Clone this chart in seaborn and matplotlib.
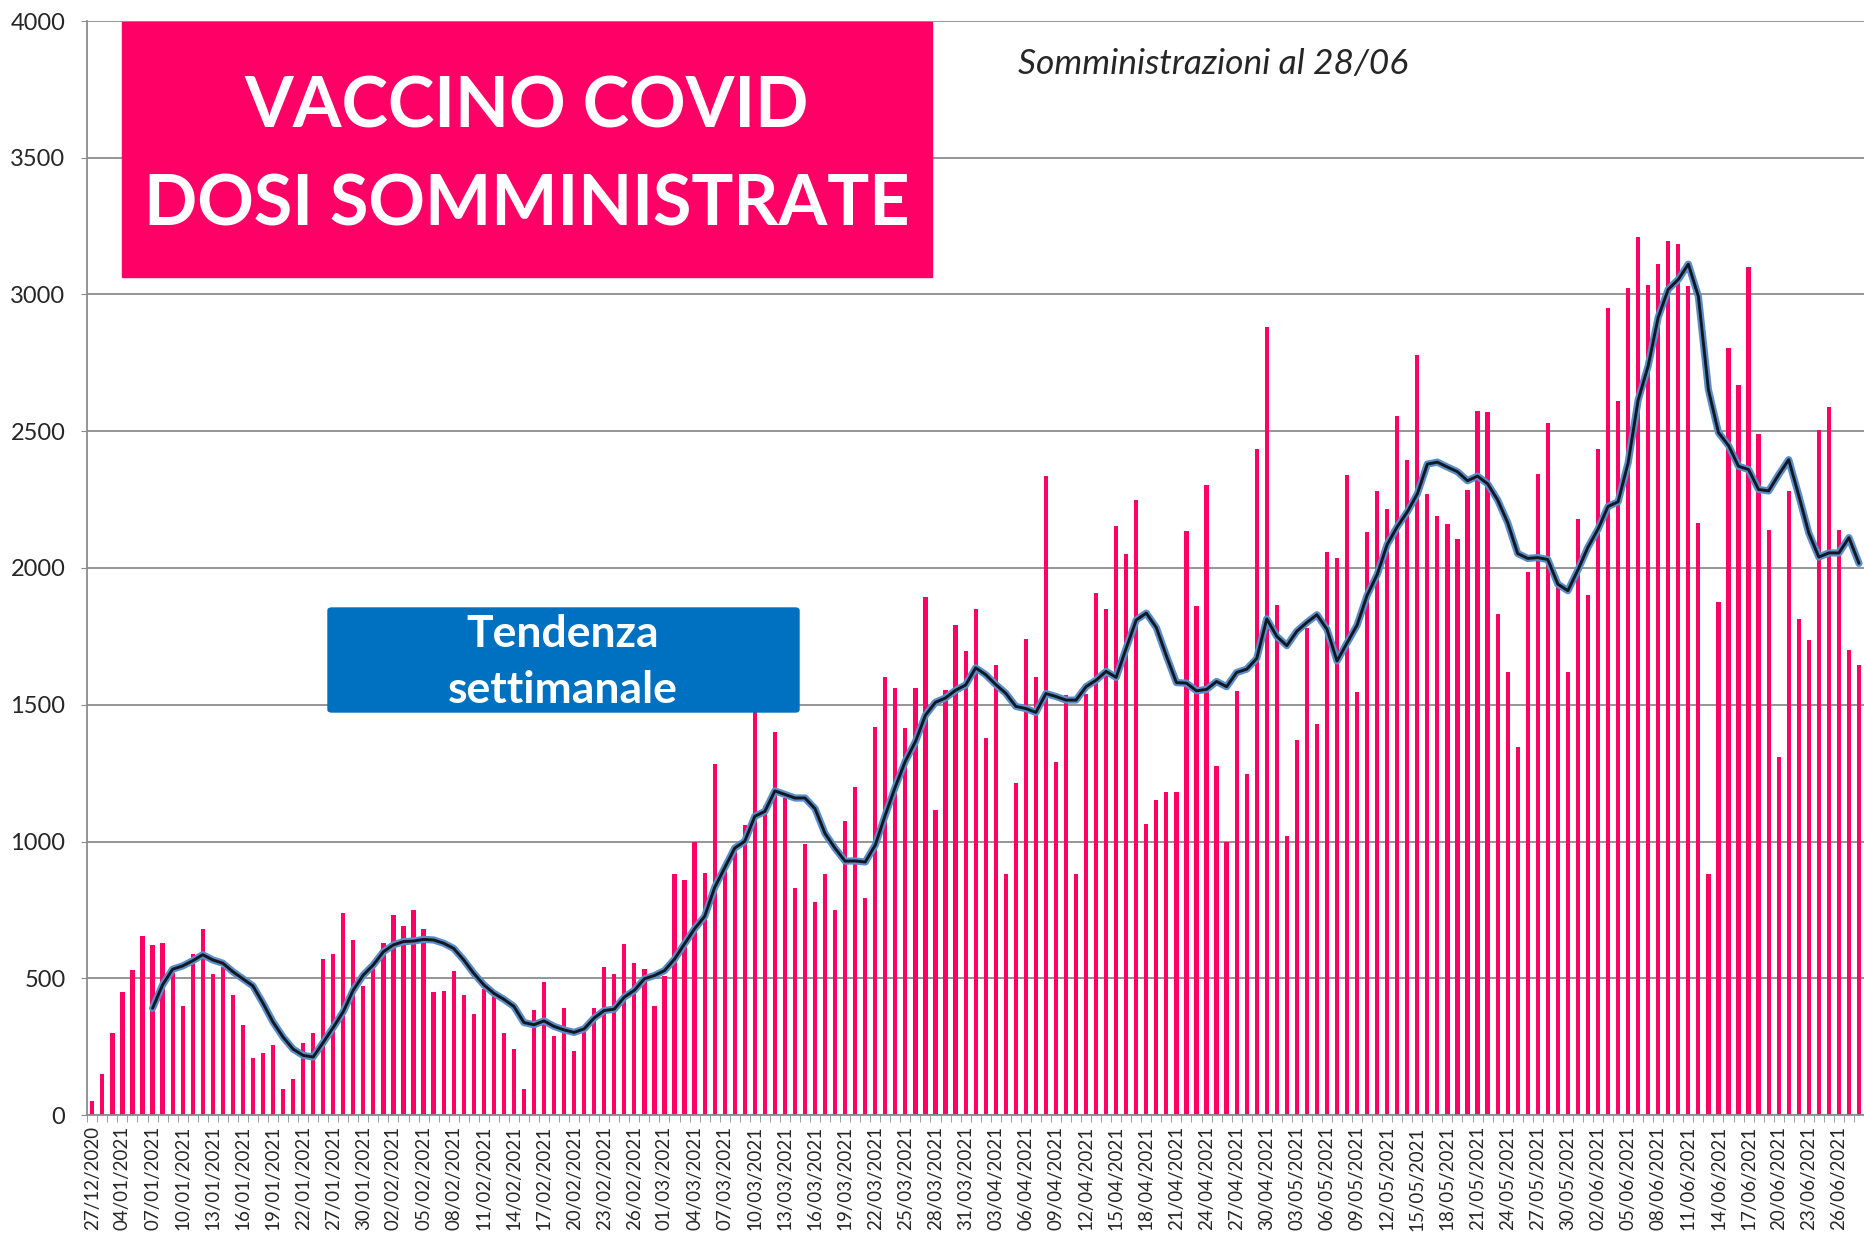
import pandas as pd
import seaborn as sns
import matplotlib.pyplot as plt
import matplotlib.patheffects as pe
from matplotlib.patches import Rectangle, FancyBboxPatch
import numpy as np

# giorni (categorie): due buchi all'inizio e a fine gennaio
giorni = (["27/12/2020", "31/12/2020", "02/01/2021"]
          + list(pd.date_range("2021-01-04", "2021-01-22").strftime("%d/%m/%Y"))
          + ["25/01/2021", "26/01/2021"]
          + list(pd.date_range("2021-01-27", "2021-06-28").strftime("%d/%m/%Y")))

dosi = [50, 150, 300, 450, 530, 655, 620, 630, 520, 400,
        590, 680, 515, 540, 440, 330, 210, 225, 255, 95,
        130, 265, 300, 570, 590, 740, 640, 470, 550, 630,
        730, 690, 750, 680, 450, 455, 525, 440, 370, 460,
        440, 300, 240, 95, 385, 485, 290, 390, 235, 305,
        390, 540, 515, 625, 555, 535, 400, 510, 880, 860,
        1000, 885, 1285, 920, 980, 1060, 1490, 1130, 1400, 1160,
        830, 990, 780, 880, 750, 1075, 1200, 795, 1420, 1600,
        1560, 1415, 1560, 1895, 1115, 1555, 1790, 1695, 1850, 1380,
        1645, 880, 1215, 1740, 1600, 2335, 1290, 1535, 880, 1540,
        1910, 1850, 2155, 2050, 2250, 1065, 1150, 1180, 1180, 2135,
        1860, 2305, 1275, 1000, 1550, 1245, 2435, 2880, 1865, 1020,
        1370, 1780, 1430, 2060, 2035, 2340, 1545, 2130, 2280, 2215,
        2555, 2395, 2780, 2270, 2190, 2160, 2105, 2285, 2575, 2570,
        1830, 1620, 1345, 1985, 2345, 2530, 1950, 1620, 2180, 1900,
        2435, 2950, 2610, 3025, 3210, 3035, 3110, 3195, 3185, 3030,
        2165, 880, 1875, 2805, 2670, 3100, 2490, 2140, 1310, 2280,
        1815, 1735, 2505, 2590, 2140, 1700, 1645]

media_7gg = [390, 476, 533, 545, 564, 586, 567, 555, 524, 498,
             472, 409, 340, 285, 241, 218, 212, 265, 320, 378,
             457, 512, 549, 597, 622, 634, 636, 642, 640, 628,
             609, 567, 518, 476, 445, 423, 397, 338, 330, 344,
             324, 311, 302, 315, 355, 382, 387, 431, 456, 498,
             510, 528, 570, 626, 681, 726, 832, 904, 976, 1001,
             1092, 1110, 1185, 1172, 1159, 1159, 1120, 1029, 975, 928,
             929, 925, 987, 1097, 1200, 1294, 1365, 1462, 1509, 1525,
             1553, 1572, 1635, 1610, 1574, 1542, 1494, 1486, 1472, 1541,
             1530, 1517, 1517, 1566, 1590, 1622, 1600, 1707, 1810, 1835,
             1782, 1679, 1581, 1579, 1551, 1556, 1585, 1566, 1618, 1630,
             1669, 1814, 1750, 1716, 1769, 1801, 1829, 1776, 1660, 1726,
             1791, 1900, 1976, 2086, 2151, 2205, 2271, 2380, 2387, 2369,
             2352, 2319, 2336, 2308, 2249, 2166, 2053, 2035, 2038, 2031,
             1941, 1917, 1993, 2076, 2142, 2225, 2242, 2384, 2614, 2739,
             2917, 3019, 3055, 3111, 2993, 2652, 2495, 2448, 2372, 2360,
             2287, 2282, 2341, 2396, 2265, 2128, 2040, 2055, 2055, 2111,
             2017]

sns.set_style("white")
plt.rcParams['font.family'] = ['Lato', 'DejaVu Sans']

W, H = 1864, 1236
fig = plt.figure(figsize=(W / 100, H / 100), dpi=100)
ax = fig.add_axes([87 / W, 1 - 1115 / H, 1 - 87 / W, (1115 - 21) / H])

df = pd.DataFrame({'pos': np.arange(len(dosi)), 'dosi': dosi})
sns.barplot(data=df, x='pos', y='dosi', color='#FF0066', saturation=1,
            width=0.42, errorbar=None, ax=ax, zorder=2, edgecolor='none', linewidth=0)

ma = pd.DataFrame({'pos': np.arange(6, len(dosi)), 'media': media_7gg})
sns.lineplot(data=ma, x='pos', y='media', color='#111820', lw=2.1, ax=ax, zorder=3,
             path_effects=[pe.Stroke(linewidth=5.2, foreground='#5b8dc9'), pe.Normal()])

grey = '#8c8c8c'
ax.set_xlim(-0.53, 176.0)
ax.set_ylim(0, 4000)
ax.set_yticks(range(0, 4001, 500))
ax.yaxis.grid(True, color=grey, lw=1.3)
ax.set_axisbelow(True)
ax.tick_params(axis='y', labelsize=17, length=4.5, color=grey, pad=11, left=True)

ax.set_xticks(range(0, len(giorni), 3))
ax.set_xticklabels(giorni[::3], rotation=90, fontsize=13.5)
ax.set_xticks(np.arange(-0.5, len(giorni), 1), minor=True)
ax.tick_params(axis='x', which='major', length=0, pad=8)
ax.tick_params(axis='x', which='minor', length=5, color=grey, bottom=True)
ax.set_xlabel('')
ax.set_ylabel('')
for s in ['top', 'right']:
    ax.spines[s].set_visible(False)
for s in ['left', 'bottom']:
    ax.spines[s].set_color(grey)
    ax.spines[s].set_linewidth(1.3)

# riquadro del titolo
fig.patches.append(Rectangle((121.7 / W, 1 - 277 / H), 810 / W, 255.3 / H,
                             transform=fig.transFigure, color='#FF0066', zorder=5))
fig.text(527 / W, 1 - 128 / H, "VACCINO COVID", color='white', fontsize=50.5,
         fontweight='bold', ha='center', va='baseline', zorder=6)
fig.text(527 / W, 1 - 225 / H, "DOSI SOMMINISTRATE", color='white', fontsize=50.5,
         fontweight='bold', ha='center', va='baseline', zorder=6)

# riquadro tendenza
fig.patches.append(FancyBboxPatch((328 / W, 1 - 712 / H), 471 / W, 104 / H,
                                  boxstyle="round,pad=0,rounding_size=0.002",
                                  transform=fig.transFigure, color='#0070C0', zorder=5))
fig.text(563 / W, 1 - 647 / H, "Tendenza", color='white', fontsize=32,
         fontweight='bold', ha='center', va='baseline', zorder=6)
fig.text(563 / W, 1 - 703 / H, "settimanale", color='white', fontsize=32,
         fontweight='bold', ha='center', va='baseline', zorder=6)

fig.text(1213 / W, 1 - 74 / H, "Somministrazioni al 28/06", fontsize=25.5,
         fontstyle='italic', ha='center', va='baseline')

fig.savefig("out.png", dpi=100)
